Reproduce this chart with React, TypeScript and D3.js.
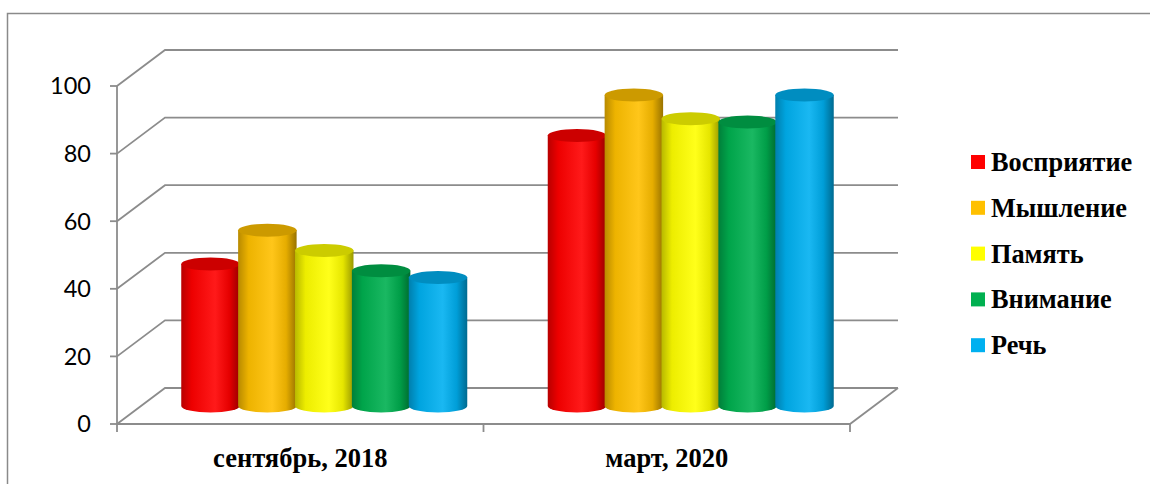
import React from "react";
import * as d3 from "d3";

const categories = ["сентябрь, 2018", "март, 2020"];
const seriesNames = ["Восприятие", "Мышление", "Память", "Внимание", "Речь"];
const seriesColors = ["#FF0000", "#FFC000", "#FFFF00", "#00B050", "#00B0F0"];
const sept2018 = [42, 52, 46, 40, 38];
const mar2020 = [80, 92, 85, 84, 92];
const yTicks = [0, 20, 40, 60, 80, 100];

const W = 1150;
const H = 484;
const plotLeft = 117;
const plotRight = 850;
const depthX = 48;
const depthY = -36;
const yScale = d3.scaleLinear().domain([0, 100]).range([424, 86]);
const xCat = d3.scaleBand<string>().domain(categories).range([plotLeft, plotRight]);
const bw = xCat.bandwidth();
const xSer = d3.scaleBand<string>().domain(seriesNames).range([bw * 0.112, bw * 0.888]).padding(0);
const values = [sept2018, mar2020];

const gridColor = "#8c8c8c";

function shade(c: string, k: number) {
  const col = d3.rgb(c);
  return d3.rgb(col.r * k, col.g * k, col.b * k).formatHex();
}
function lighten(c: string, t: number) {
  return d3.interpolateRgb(c, "#ffffff")(t);
}

export default function App() {
  const rx = xSer.bandwidth() / 2 + 0.8;
  const ry = 6.5;
  const midDx = depthX / 2;
  const midDy = depthY / 2;
  return (
    <svg width={W} height={H} style={{ position: "absolute", left: 0, top: 0, background: "#fff" }}>
      <defs>
        {seriesColors.map((c, i) => (
          <linearGradient id={`g${i}`} key={i} x1="0" x2="1" y1="0" y2="0">
            <stop offset="0" stopColor={shade(c, 0.72)} />
            <stop offset="0.18" stopColor={shade(c, 0.93)} />
            <stop offset="0.58" stopColor={lighten(c, 0.1)} />
            <stop offset="0.82" stopColor={shade(c, 0.9)} />
            <stop offset="1" stopColor={shade(c, 0.6)} />
          </linearGradient>
        ))}
      </defs>
      {/* outer border */}
      <path d={`M7.5,${H} L7.5,13.5 L${W},13.5`} fill="none" stroke="#8a8a8a" strokeWidth={1.5} />
      {/* back walls / gridlines */}
      {yTicks.map((t) => {
        const y = yScale(t);
        return (
          <path
            key={t}
            d={`M${plotLeft},${y} L${plotLeft + depthX},${y + depthY} L${plotRight + depthX},${y + depthY}`}
            fill="none"
            stroke={gridColor}
            strokeWidth={1.8}
          />
        );
      })}
      {/* floor front and right edge */}
      <path
        d={`M${plotLeft},${yScale(0)} L${plotRight},${yScale(0)} L${plotRight + depthX},${yScale(0) + depthY}`}
        fill="none"
        stroke={gridColor}
        strokeWidth={1.8}
      />
      {/* y axis */}
      <line x1={plotLeft} x2={plotLeft} y1={yScale(100)} y2={yScale(0)} stroke={gridColor} strokeWidth={1.8} />
      {yTicks.map((t) => (
        <g key={t}>
          <line x1={plotLeft - 7} x2={plotLeft} y1={yScale(t)} y2={yScale(t)} stroke={gridColor} strokeWidth={1.8} />
          <text
            x={91}
            y={yScale(t)}
            dy="0.36em"
            textAnchor="end"
            fontFamily="Lato, 'Liberation Sans', sans-serif"
            fontSize={23.5}
            fill="#000"
          >
            {t}
          </text>
        </g>
      ))}
      {/* category ticks */}
      {[plotLeft, ...categories.map((c) => (xCat(c) as number) + bw)].map((x, i) => (
        <line key={i} x1={x} x2={x} y1={yScale(0)} y2={yScale(0) + 8} stroke={gridColor} strokeWidth={1.8} />
      ))}
      {/* category labels */}
      {categories.map((c) => (
        <text
          key={c}
          x={(xCat(c) as number) + bw / 2}
          y={467}
          textAnchor="middle"
          fontFamily="'Liberation Serif', 'Times New Roman', serif"
          fontWeight="bold"
          fontSize={26.5}
          fill="#000"
        >
          {c}
        </text>
      ))}
      {/* cylinders */}
      {categories.map((c, ci) =>
        seriesNames.map((s, si) => {
          const v = values[ci][si];
          const cx = (xCat(c) as number) + (xSer(s) as number) + xSer.bandwidth() / 2 + midDx;
          const yb = yScale(0) + midDy;
          const yt = yScale(v) + midDy;
          const xl = cx - rx;
          const xr = cx + rx;
          const col = seriesColors[si];
          return (
            <g key={`${ci}-${si}`}>
              <path
                d={`M${xl},${yt} L${xl},${yb} A${rx},${ry} 0 0 0 ${xr},${yb} L${xr},${yt} Z`}
                fill={`url(#g${si})`}
              />
              <ellipse cx={cx} cy={yt} rx={rx} ry={ry} fill={shade(col, 0.8)} />
            </g>
          );
        })
      )}
      {/* legend */}
      {seriesNames.map((s, i) => {
        const y = 162 + i * 45.8;
        return (
          <g key={s}>
            <rect x={971} y={y - 7} width={14} height={14} fill={seriesColors[i]} />
            <text
              x={991}
              y={y}
              dy="0.34em"
              fontFamily="'Liberation Serif', 'Times New Roman', serif"
              fontWeight="bold"
              fontSize={26.3}
              fill="#000"
            >
              {s}
            </text>
          </g>
        );
      })}
    </svg>
  );
}
